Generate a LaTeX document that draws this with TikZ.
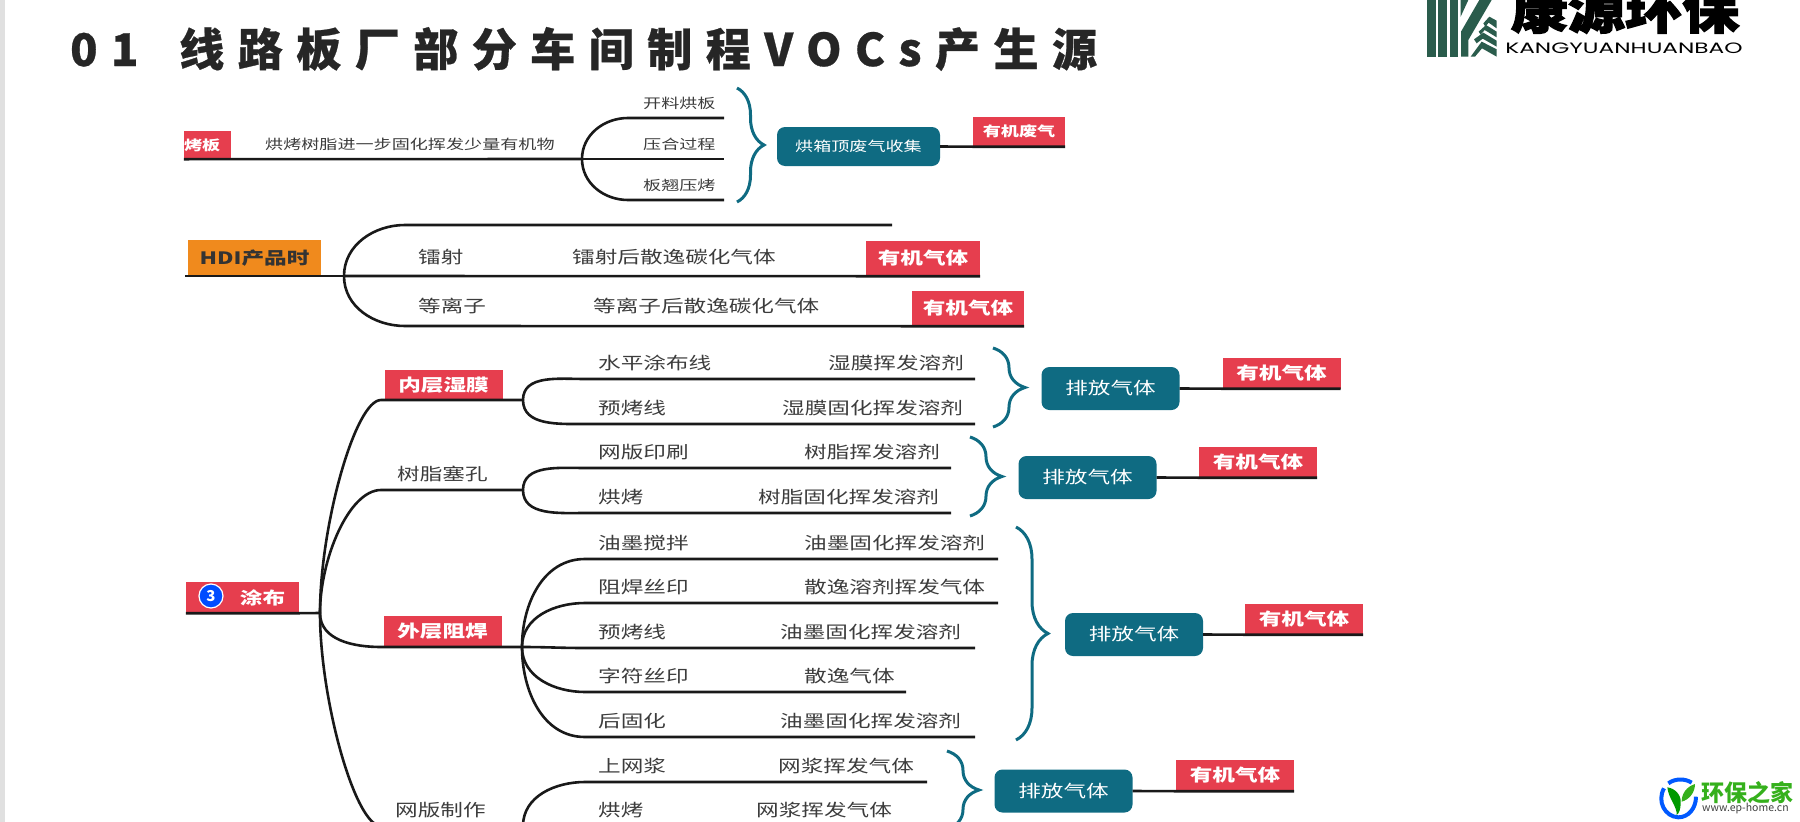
\documentclass[tikz,border=0pt]{standalone}
\usepackage{fontspec}
\setmainfont{Noto Sans CJK SC}
\newfontfamily\titlefont[LetterSpace=30,FakeBold=0.6]{Noto Sans CJK SC}
\newfontfamily\widefont[FakeStretch=1.33]{Noto Sans CJK SC}
\newfontfamily\logofont[FakeStretch=1.12,FakeBold=2.5]{Noto Sans CJK SC}
\newfontfamily\latinfont[FakeStretch=1.55]{Poppins}
\usetikzlibrary{decorations.pathreplacing}
\definecolor{redbg}{HTML}{E63E4E}
\definecolor{tealbg}{HTML}{0F6B82}
\definecolor{orangebg}{HTML}{F08A1D}
\definecolor{inkgray}{HTML}{3C3C3C}
\definecolor{logogreen}{HTML}{2A5C4C}
\definecolor{sitegreen}{HTML}{35B01C}
\tikzset{
  branch/.style={line width=2.6pt,black!90},
  lbl/.style={inner sep=0pt,anchor=west,text=inkgray,font=\widefont\fontsize{17}{20}\selectfont},
  lblsm/.style={lbl,font=\widefont\fontsize{13.6}{17}\selectfont},
  redbox/.style={fill=redbg,text=white,inner sep=0pt,minimum width=118pt,minimum height=31pt,font=\widefont\bfseries\fontsize{17}{20}\selectfont},
  tealbox/.style={fill=tealbg,text=white,inner sep=0pt,rounded corners=8pt,minimum width=138pt,minimum height=43pt,font=\widefont\fontsize{17}{20}\selectfont},
  tealbrace/.style={draw=tealbg,line width=3pt,decorate,decoration={brace,amplitude=32pt}},
}
\begin{document}
\begin{tikzpicture}[x=1pt,y=-1pt]
  \useasboundingbox (0,0) rectangle (1800,822);
  \clip (0,0) rectangle (1800,822);
  \fill[black!12] (0,0) rectangle (5,822);
  % title
  \node[anchor=west,inner sep=0pt,text=black!85,font=\titlefont\bfseries\fontsize{45}{50}\selectfont] (title) at (70,49) {01\hspace{17pt} 线路板厂部分车间制程VOCs产生源};
  % first block
  \node[redbox,minimum width=47pt,minimum height=28pt,text width=47pt,font=\widefont\bfseries\fontsize{13.6}{17}\selectfont] (kaoban) at (207.5,145) {烤板};
  \node[lblsm] (kaotext) at (265,144) {烘烤树脂进一步固化挥发少量有机物};
  \coordinate (fk) at (582,159);
  \draw[branch] (kaoban.south west) -- (fk);
  \foreach \nm/\ot/\yy/\tl in {ka/90/118/开料烘板,kb/0/159/压合过程,kc/-90/200/板翘压烤} {
    \coordinate (\nm s) at (628,\yy);
    \coordinate (\nm e) at (724,\yy);
    \draw[branch] (fk) to[out=\ot,in=180] (\nm s) -- (\nm e);
    \node[lblsm] (\nm t) at (643,\yy-15) {\tl};
  }
  \draw[tealbrace,decoration={amplitude=27pt}] (737,88) -- (737,202);
  \node[tealbox,minimum width=163pt,minimum height=39pt,font=\widefont\fontsize{13.6}{17}\selectfont] (hongxiang) at (858.5,146.5) {烘箱顶废气收集};
  \node[redbox,minimum width=92pt,minimum height=29.5pt,font=\widefont\bfseries\fontsize{13.6}{17}\selectfont] (feiqi) at (1019,131.75) {有机废气};
  \draw[branch] (hongxiang.east) -- (feiqi.south west) -- (feiqi.south east);
  % HDI block
  \node[fill=orangebg,text=black!80,inner sep=0pt,minimum width=133pt,minimum height=36pt,font=\widefont\bfseries\fontsize{17}{20}\selectfont] (hdi) at (254.5,258) {HDI产品时};
  \coordinate (fh) at (344,276);
  \coordinate (hdil) at (185,276);
  \draw[branch] (hdil) -- (fh);
  \coordinate (hdit) at (892,225);
  \coordinate (hdis) at (405,225);
  \draw[branch] (fh) to[out=90,in=180] (hdis) -- (hdit);
  \node[redbox,minimum width=114pt,minimum height=35pt] (qa) at (923,258.5) {有机气体};
  \node[redbox,minimum width=112pt,minimum height=35pt] (qb) at (968,308.5) {有机气体};
  \draw[branch] (fh) -- (qa.south west) -- (qa.south east);
  \draw[branch] (fh) to[out=-90,in=180] (405,326) -- (qb.south west) -- (qb.south east);
  \node[lbl] (leishe) at (418,257) {镭射};
  \node[lbl] (leishehou) at (572,257) {镭射后散逸碳化气体};
  \node[lbl] (dengli) at (418,306) {等离子};
  \node[lbl] (denglihou) at (593,306) {等离子后散逸碳化气体};
  % coating block
  \node[redbox,minimum width=113pt] (tubu) at (242.5,597.5) {\hspace{40pt}涂布};
  \node[circle,fill=blue!70!cyan,draw=white,line width=1.2pt,text=white,inner sep=0pt,minimum size=24pt,font=\bfseries\fontsize{15}{15}\selectfont] (san) at (211,596) {3};
  \coordinate (ft) at (320,613);
  \draw[branch] (tubu.south west) -- (tubu.south east) -- (ft);
  \node[redbox] (neiceng) at (443.5,385) {内层湿膜};
  \node[lbl] (shuzhi) at (397,474) {树脂塞孔};
  \node[redbox] (waiceng) at (442.5,631.5) {外层阻焊};
  \node[lbl] (wangban) at (395,810) {网版制作};
  \coordinate (fa) at (523,400);
  \coordinate (fb) at (523,490);
  \coordinate (fc) at (522,647);
  \coordinate (fd) at (523,826);
  \draw[branch] (ft) to[out=90,in=180,in looseness=.3] (381,400) -- (fa);
  \draw[branch] (ft) to[out=90,in=180,in looseness=.6] (381,490) -- (fb);
  \draw[branch] (ft) to[out=-90,in=180] (381,647) -- (fc);
  \draw[branch] (ft) to[out=-90,in=180,in looseness=.3] (381,826) -- (fd);
  \foreach \nm/\fk/\ot/\yy/\xe/\tl/\xr/\tr in {
    ra/fa/90/379/975/水平涂布线/828/湿膜挥发溶剂,
    rb/fa/-90/424/975/预烤线/782/湿膜固化挥发溶剂,
    rc/fb/90/468/951/网版印刷/804/树脂挥发溶剂,
    rd/fb/-90/513/951/烘烤/758/树脂固化挥发溶剂,
    re/fc/90/559/998/油墨搅拌/804/油墨固化挥发溶剂,
    rf/fc/90/603/998/阻焊丝印/804/散逸溶剂挥发气体,
    rg/fc/0/648/975/预烤线/780/油墨固化挥发溶剂,
    rh/fc/-90/692/906/字符丝印/804/散逸气体,
    ri/fc/-90/737/975/后固化/780/油墨固化挥发溶剂,
    rj/fd/90/782/927/上网浆/778/网浆挥发气体,
    rk/fd/0/826/927/烘烤/756/网浆挥发气体} {
    \coordinate (\nm s) at (585,\yy);
    \coordinate (\nm e) at (\xe,\yy);
    \draw[branch] (\fk) to[out=\ot,in=180] (\nm s) -- (\nm e);
    \node[lbl] (\nm l) at (598,\yy-16) {\tl};
    \node[lbl] (\nm t) at (\xr,\yy-16) {\tr};
  }
  % braces, outlets
  \foreach \nm/\bx/\bt/\bb/\tx/\ty/\qx in {
    pa/993/348/427/1110.5/388.5/1281.5,
    pb/970/437/516/1087.5/477.5/1258,
    pc/1016/527/740/1134/634.5/1304,
    pd/947/751/829/1063.5/791/1235} {
    \draw[tealbrace] (\bx,\bt) -- (\bx,\bb);
    \node[tealbox] (\nm) at (\tx,\ty) {排放气体};
    \node[redbox] (\nm q) at (\qx,\ty-15.5) {有机气体};
    \draw[branch] (\nm.east) -- (\nm q.south west) -- (\nm q.south east);
  }
  % logo
  \begin{scope}[shift={(1400,0)},x=0.3333pt,y=-0.3333pt]
    \fill[logogreen] (82,0) rectangle (108,170);
    \fill[logogreen] (115,0) rectangle (140,170);
    \fill[logogreen] (150,0) rectangle (175,170);
    \fill[logogreen] (182,0) -- (205,0) -- (182,50) -- cycle;
    \fill[logogreen] (183,170) -- (183,95) -- (238,0) -- (275,0) -- (205,120) -- (205,170) -- cycle;
    \fill[logogreen] (212,170) -- (245,125) -- (290,148) -- (290,170) -- (246,145) -- (225,170) -- cycle;
    \fill[logogreen] (222,118) -- (250,98) -- (290,122) -- (290,140) -- (248,116) -- (230,130) -- cycle;
    \fill[logogreen] (236,95) -- (258,75) -- (290,95) -- (290,112) -- (254,90) -- (242,104) -- cycle;
    \fill[logogreen] (250,70) -- (268,50) -- (290,62) -- (290,85) -- (266,68) -- (256,80) -- cycle;
  \end{scope}
  \node[text=black,inner sep=0pt,font=\logofont\bfseries\fontsize{51}{51}\selectfont] (logotext) at (1625,9) {康源环保};
  \node[text=black,inner sep=0pt,font=\latinfont\fontsize{15}{15}\selectfont] (logolatin) at (1624,48) {KANGYUANHUANBAO};
  % watermark
  \begin{scope}[shift={(1640,760)},x=0.3333pt,y=-0.3333pt]
    \draw[blue!65!cyan,line width=4pt] (85,70) .. controls (105,55) and (135,55) .. (155,68);
    \draw[blue!65!cyan,line width=4pt] (72,85) .. controls (50,125) and (75,170) .. (115,172) .. controls (145,172) and (168,145) .. (168,110);
    \fill[green!60!black] (82,82) .. controls (105,85) and (125,105) .. (122,130) .. controls (122,145) and (118,160) .. (110,165) .. controls (112,140) and (85,115) .. (82,82) -- cycle;
    \fill[sitegreen] (165,72) .. controls (165,100) and (145,120) .. (125,125) .. controls (125,100) and (140,80) .. (165,72) -- cycle;
  \end{scope}
  \node[anchor=west,inner sep=0pt,text=sitegreen,font=\bfseries\fontsize{23}{23}\selectfont] (hbzj) at (1701,793) {环保之家};
  \node[anchor=west,inner sep=0pt,text=black!75,font=\fontsize{10.5}{12}\selectfont] (hbsite) at (1702,809) {www.ep-home.cn};
\end{tikzpicture}
\end{document}
